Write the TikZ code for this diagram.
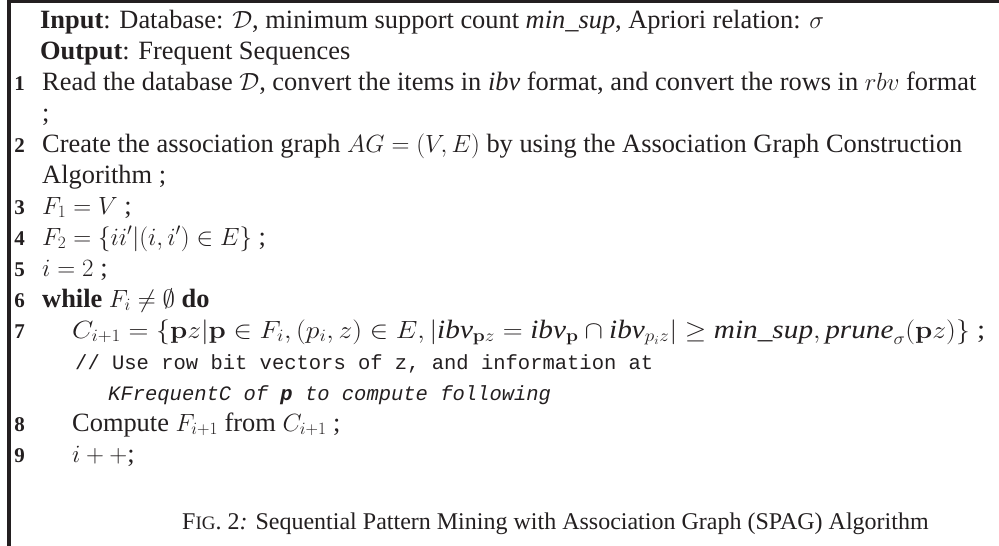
\documentclass[tikz,border=0pt]{standalone}
\usepackage[no-math]{fontspec}
\setmainfont{Liberation Serif}
\setmonofont{Liberation Mono}
\usepackage{amssymb}
\usepackage{graphicx}
\definecolor{ink}{HTML}{231F20}
\tikzset{
  txt/.style={anchor=base west, inner sep=0pt, font=\fontsize{26.4}{31}\selectfont, text=ink},
  num/.style={anchor=base east, inner sep=0pt, font=\fontsize{21}{24}\selectfont\bfseries, text=ink},
  cmt/.style={anchor=base west, inner sep=0pt, font=\fontsize{20.5}{24}\selectfont\ttfamily, text=ink},
  captxt/.style={anchor=base west, inner sep=0pt, font=\fontsize{24}{28}\selectfont, text=ink},
  frame/.style={draw=ink, line cap=butt}
}
\newcommand{\ti}[1]{\textnormal{\itshape #1}}
\begin{document}
\begin{tikzpicture}[x=1pt,y=-1pt]
\useasboundingbox (0,0) rectangle (999,546);
\draw[frame, line width=2.6pt] (7.4,1.3) -- (999,1.3);
\draw[frame, line width=3.3pt] (9,0) -- (9,546);
\def\xa{42}
\node[txt] (input) at (40,28) {\textbf{Input}: Database: $\mathcal{D}$, minimum support count \textit{min\_sup}, Apriori relation: $\sigma$};
\node[txt] (output) at (40,59) {\textbf{Output}: Frequent Sequences};
\node[num] (n1) at (25,90) {1};
\node[txt] (l1) at (\xa,90) {Read the database $\mathcal{D}$, convert the items in \textit{ibv} format, and convert the rows in $rbv$ format};
\node[txt] (l1b) at (\xa,121) {;};
\node[num] (n2) at (25,152) {2};
\node[txt] (l2) at (\xa,152) {Create the association graph $AG=(V,E)$ by using the Association Graph Construction};
\node[txt] (l2b) at (\xa,183) {Algorithm ;};
\node[num] (n3) at (25,214) {3};
\node[txt] (l3) at (\xa,214) {$F_1=V$ ;};
\node[num] (n4) at (25,245) {4};
\node[txt] (l4) at (\xa,245) {$F_2=\{ii'|(i,i')\in E\}$ ;};
\node[num] (n5) at (25,276) {5};
\node[txt] (l5) at (\xa,276) {$i=2$ ;};
\node[num] (n6) at (25,307) {6};
\node[txt] (l6) at (\xa,307) {\textbf{while} $F_i\neq\emptyset$ \textbf{do}};
\node[num] (n7) at (25,338) {7};
\node[txt] (l7) at (72,338) {\resizebox{913pt}{\height}{$C_{i+1}=\{\mathbf{p}z|\mathbf{p}\in F_i,(p_i,z)\in E,|\ti{ibv}_{\mathbf{p}z}=\ti{ibv}_{\mathbf{p}}\cap\ti{ibv}_{p_iz}|\geq\ti{min\_sup},\ti{prune}_\sigma(\mathbf{p}z)\}$ ;}};
\node[cmt] (c1) at (75,369) {// Use row bit vectors of z, and information at};
\node[cmt] (c2) at (108,400) {\itshape KFrequentC of \textbf{p} to compute following};
\node[num] (n8) at (25,431) {8};
\node[txt] (l8) at (72,431) {Compute $F_{i+1}$ from $C_{i+1}$ ;};
\node[num] (n9) at (25,462) {9};
\node[txt] (l9) at (72,462) {$i++$;};
\node[captxt] (cap) at (182,529) {F{\fontsize{19}{22}\selectfont IG}. 2\textit{:} Sequential Pattern Mining with Association Graph (SPAG) Algorithm};
\end{tikzpicture}
\end{document}
